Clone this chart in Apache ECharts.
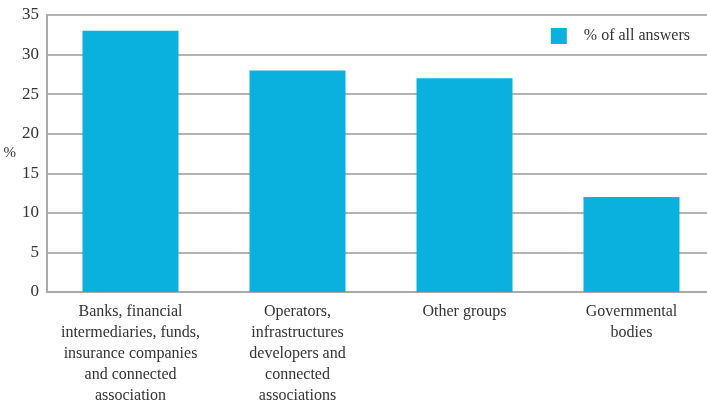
<!DOCTYPE html>
<html>
<head>
<meta charset="utf-8">
<script src="https://cdn.jsdelivr.net/npm/echarts@6/dist/echarts.min.js"></script>
<style>
  html, body { margin: 0; padding: 0; background: #fff; overflow: hidden; }
  /* a bit wider than the window: the gridlines run off the right edge */
  #main { width: 715px; height: 406px; }
</style>
</head>
<body>
<div id="main"></div>
<script>
// data
let categories = [
    'Banks, financial\nintermediaries, funds,\ninsurance companies\nand connected\nassociation',
    'Operators,\ninfrastructures\ndevelopers and\nconnected\nassociations',
    'Other groups',
    'Governmental\nbodies'
];
let values = [33, 28, 27, 12];
let seriesName = '% of all answers';

let myChart = echarts.init(document.getElementById('main'));
let option = {
    backgroundColor: '#fff',
    animation: false,
    textStyle: {
        fontFamily: 'Liberation Serif'
    },
    legend: {
        top: 23,
        right: 20,
        itemWidth: 16,
        itemHeight: 16,
        icon: 'rect',
        textStyle: {
            fontFamily: 'Liberation Serif',
            fontSize: 16,
            color: '#333',
            padding: [0, 0, 0, 12]
        },
        data: [seriesName]
    },
    grid: {
        left: 47,
        right: 0,
        top: 15,
        bottom: 113,
        containLabel: false
    },
    xAxis: {
        type: 'category',
        data: categories,
        axisLine: {
            lineStyle: { color: '#aaa', width: 2 }
        },
        axisTick: { show: false },
        axisLabel: {
            interval: 0,
            fontSize: 16,
            lineHeight: 21,
            color: '#333',
            margin: 9,
            verticalAlign: 'top'
        }
    },
    yAxis: {
        type: 'value',
        min: 0,
        max: 35,
        interval: 5,
        name: '%',
        nameLocation: 'middle',
        nameRotate: 0,
        nameGap: 28,
        nameTextStyle: {
            fontSize: 15,
            color: '#333',
            padding: [6, 0, 0, 0]
        },
        axisLine: {
            show: true,
            lineStyle: { color: '#aaa', width: 2 }
        },
        axisTick: { show: false },
        axisLabel: {
            fontSize: 17,
            color: '#333',
            margin: 8
        },
        splitLine: {
            lineStyle: { color: '#b3b3b3', width: 2 }
        }
    },
    series: [{
        name: seriesName,
        type: 'bar',
        data: values,
        barWidth: 96,
        itemStyle: { color: '#0bb1de' }
    }]
};
myChart.setOption(option);
</script>
</body>
</html>
